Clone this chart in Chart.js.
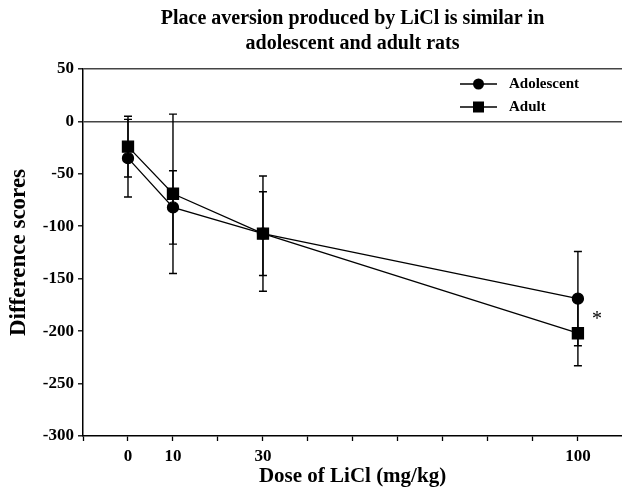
<!DOCTYPE html>
<html>
<head>
<meta charset="utf-8">
<script src="https://cdn.jsdelivr.net/npm/chart.js@4.4.0/dist/chart.umd.min.js"></script>
<style>
  html, body { margin: 0; padding: 0; background: #fff; }
  #wrap { width: 622px; height: 492px; }
</style>
</head>
<body>
<div id="wrap"><canvas id="chart"></canvas></div>
<script>
// dose of LiCl (mg/kg)
const doses = [0, 10, 30, 100];
const shownTicks = [0, 10, 30, 100];
// difference scores (mean and SEM)
const adolescent = [-35, -82, -107, -169];
const adolescentSem = [37, 35, 40, 45];
const adult = [-24, -69, -107, -202];
const adultSem = [29, 76, 55, 31];
const yTicks = [50, 0, -50, -100, -150, -200, -250, -300];

const serif = "'Liberation Serif', 'Times New Roman', serif";

// error bars drawn under the markers
const errorBars = {
  id: 'errorBars',
  beforeDatasetsDraw(chart) {
    const ctx = chart.ctx;
    const y = chart.scales.y;
    ctx.save();
    ctx.strokeStyle = '#000';
    ctx.lineWidth = 1.4;
    chart.data.datasets.forEach((ds, i) => {
      const meta = chart.getDatasetMeta(i);
      meta.data.forEach((pt, j) => {
        const v = ds.data[j].y, e = ds.sem[j];
        const top = y.getPixelForValue(v + e);
        const bot = y.getPixelForValue(v - e);
        ctx.beginPath();
        ctx.moveTo(pt.x, top); ctx.lineTo(pt.x, bot);
        ctx.moveTo(pt.x - 4, top); ctx.lineTo(pt.x + 4, top);
        ctx.moveTo(pt.x - 4, bot); ctx.lineTo(pt.x + 4, bot);
        ctx.stroke();
      });
    });
    ctx.restore();
  }
};

// legend with line + marker, and the significance star
const extras = {
  id: 'extras',
  afterDraw(chart) {
    const ctx = chart.ctx;
    ctx.save();
    ctx.strokeStyle = '#000';
    ctx.fillStyle = '#000';
    ctx.lineWidth = 1.4;
    const rows = [
      { label: 'Adolescent', style: 'circle', y: 84 },
      { label: 'Adult', style: 'rect', y: 107 }
    ];
    rows.forEach(r => {
      ctx.beginPath();
      ctx.moveTo(460, r.y); ctx.lineTo(497, r.y);
      ctx.stroke();
      if (r.style === 'circle') {
        ctx.beginPath();
        ctx.arc(478.5, r.y, 5.5, 0, Math.PI * 2);
        ctx.fill();
      } else {
        ctx.fillRect(473, r.y - 5.5, 11, 11);
      }
      ctx.font = 'bold 15px ' + serif;
      ctx.textBaseline = 'middle';
      ctx.textAlign = 'left';
      ctx.fillText(r.label, 509, r.y);
    });
    // asterisk next to the 100 mg/kg points
    const xs = chart.scales.x, ys = chart.scales.y;
    ctx.font = '20px ' + serif;
    ctx.textAlign = 'center';
    ctx.textBaseline = 'middle';
    ctx.fillText('*', xs.getPixelForValue(100) + 19, ys.getPixelForValue(-185) + 4);
    ctx.restore();
  }
};

new Chart(document.getElementById('chart'), {
  type: 'line',
  data: {
    datasets: [
      {
        label: 'Adolescent',
        data: doses.map((d, i) => ({ x: d, y: adolescent[i] })),
        sem: adolescentSem,
        borderColor: '#000',
        backgroundColor: '#000',
        borderWidth: 1.3,
        pointStyle: 'circle',
        pointRadius: 5.5,
        pointHoverRadius: 5.5,
        tension: 0
      },
      {
        label: 'Adult',
        data: doses.map((d, i) => ({ x: d, y: adult[i] })),
        sem: adultSem,
        borderColor: '#000',
        backgroundColor: '#000',
        borderWidth: 1.3,
        pointStyle: 'rect',
        pointRadius: 7.8,
        pointHoverRadius: 7.8,
        tension: 0
      }
    ]
  },
  options: {
    responsive: true,
    maintainAspectRatio: false,
    animation: false,
    layout: { autoPadding: false, padding: { top: 0, right: 0, bottom: 0, left: 0 } },
    plugins: {
      legend: { display: false },
      tooltip: { enabled: false },
      title: {
        display: true,
        fullSize: false,
        text: ['Place aversion produced by LiCl is similar in', 'adolescent and adult rats'],
        color: '#000',
        font: { family: serif, size: 20, weight: 'bold', lineHeight: 1.25 },
        padding: { top: 6, bottom: 13 }
      }
    },
    scales: {
      x: {
        type: 'linear',
        min: -10,
        max: 109.8,
        afterFit(s) { s.height = 56; s.paddingLeft = 0; s.paddingRight = 0; },
        afterBuildTicks(s) {
          s.ticks = [];
          for (let v = -10; v <= 100; v += 10) s.ticks.push({ value: v });
        },
        border: { color: '#000', width: 1.5 },
        grid: { drawOnChartArea: false, tickColor: '#000', tickLength: 5, tickWidth: 1.3 },
        ticks: {
          color: '#000',
          autoSkip: false,
          maxRotation: 0,
          padding: 5,
          font: { family: serif, size: 17, weight: 'bold' },
          callback: v => shownTicks.includes(v) ? String(v) : ''
        },
        title: {
          display: true,
          text: 'Dose of LiCl (mg/kg)',
          color: '#000',
          font: { family: serif, size: 21, weight: 'bold' },
          padding: { top: 0, bottom: 3 }
        }
      },
      y: {
        type: 'linear',
        min: -300,
        max: 50,
        afterFit(s) { s.width = 83; },
        afterBuildTicks(s) { s.ticks = yTicks.map(v => ({ value: v })); },
        border: { color: '#000', width: 1.5 },
        grid: {
          color: c => (c.tick && (c.tick.value === 0 || c.tick.value === 50)) ? '#444' : 'rgba(0,0,0,0)',
          lineWidth: 1.6,
          tickColor: '#000',
          tickLength: 5,
          tickWidth: 1.3
        },
        ticks: {
          color: '#000',
          padding: 4,
          font: { family: serif, size: 17, weight: 'bold' }
        },
        title: {
          display: true,
          text: 'Difference scores',
          color: '#000',
          font: { family: serif, size: 23, weight: 'bold' },
          padding: { top: 5, bottom: 0 }
        }
      }
    }
  },
  plugins: [errorBars, extras]
});
</script>
</body>
</html>
